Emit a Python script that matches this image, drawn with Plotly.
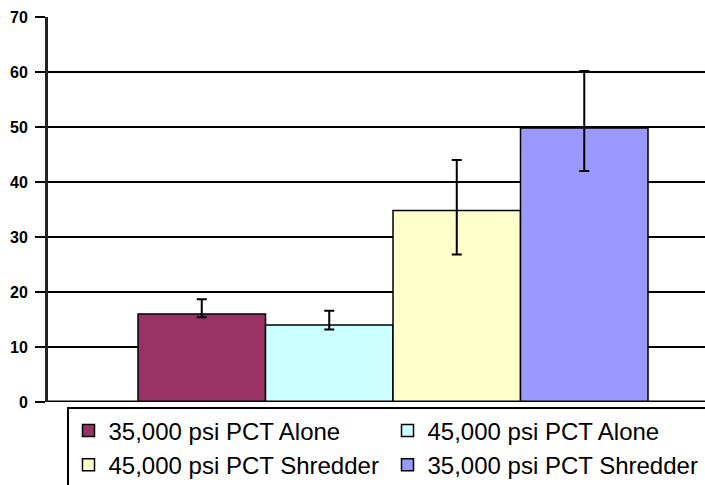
import plotly.graph_objects as go

series = ["35,000 psi PCT Alone", "45,000 psi PCT Alone",
          "45,000 psi PCT Shredder", "35,000 psi PCT Shredder"]
values = [16, 14, 34.8, 49.8]
err_plus = [2.7, 2.6, 9.2, 10.4]
err_minus = [0.6, 0.8, 8.0, 7.8]
colors = ["#993366", "#CCFFFF", "#FFFFCC", "#9999FF"]
y_ticks = [0, 10, 20, 30, 40, 50, 60, 70]

W, H = 705, 485

fig = go.Figure()
for i, name in enumerate(series):
    fig.add_trace(go.Bar(
        x=[i], y=[values[i]], name=name, width=1,
        marker=dict(color=colors[i], line=dict(color="black", width=1.5)),
        error_y=dict(type="data", symmetric=False, array=[err_plus[i]],
                     arrayminus=[err_minus[i]], color="black",
                     thickness=2, width=5),
    ))

fig.update_layout(
    width=W, height=H,
    margin=dict(l=48, r=0, t=17, b=83, autoexpand=False),
    plot_bgcolor="white", paper_bgcolor="white",
    barmode="overlay",
    font=dict(family="Liberation Sans, Arial, sans-serif", color="black"),
    xaxis=dict(range=[-1.206, 3.947], showticklabels=False, ticks="",
               showgrid=False, zeroline=False, showline=False, fixedrange=True),
    yaxis=dict(range=[0, 70], tickvals=y_ticks, ticks="outside", ticklen=10,
               tickwidth=2, tickcolor="black", showgrid=True,
               gridcolor="black", gridwidth=2, showline=True,
               linecolor="#222222", linewidth=3, zeroline=False,
               tickfont=dict(size=16, color="black", weight="bold"),
               ticklabelstandoff=4),
    legend=dict(orientation="h", xref="container", x=67 / W,
                xanchor="left", yref="container", y=1 - 407 / H,
                yanchor="top", bordercolor="black", borderwidth=1.5,
                font=dict(size=24), entrywidth=274, entrywidthmode="pixels",
                traceorder="normal", tracegroupgap=0, itemwidth=30),
    showlegend=True,
)
fig.add_hline(y=0, line=dict(color="black", width=3))

fig.write_html(
    "out.html",
    config={"displayModeBar": False},
    post_script="document.body.style.margin='0';"
                "document.body.style.overflow='hidden';",
)
